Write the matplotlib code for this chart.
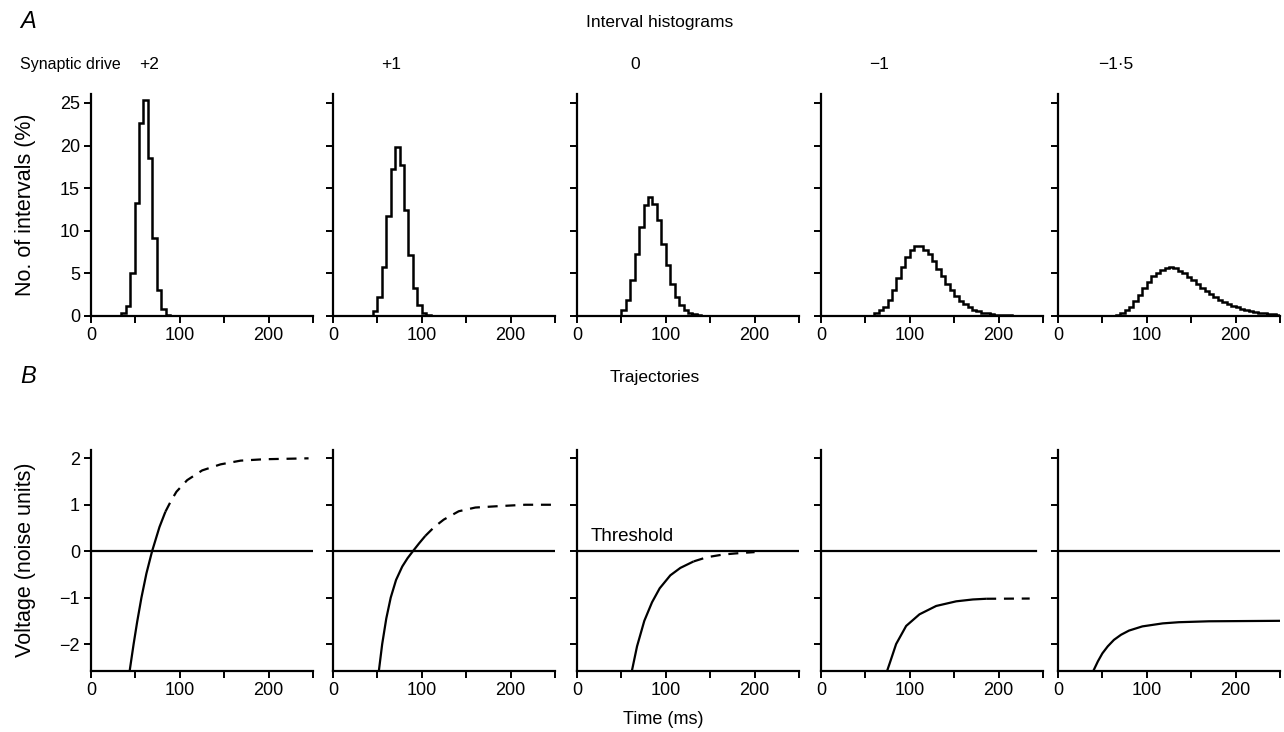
import numpy as np
import matplotlib
matplotlib.use("Agg")
import matplotlib.pyplot as plt

plt.rcParams["font.family"] = ["Liberation Sans", "DejaVu Sans"]

W, H = 1284, 732

DRIVES = ["+2", "+1", "0", "\u22121", "\u22121\u00b75"]

# interval histograms: 5 ms bins, first bin edge per panel, % of intervals
BIN_WIDTH = 5
HIST_START = [34, 45, 50, 60, 65]
HIST_PCT = [
    [0.3, 1.2, 5.1, 13.3, 22.7, 25.3, 18.5, 9.2, 3.1, 0.8, 0.1],
    [0.6, 2.2, 5.8, 11.7, 17.3, 19.8, 17.7, 12.4, 7.1, 3.3, 1.3, 0.4, 0.1],
    [0.75, 1.9, 4.2, 7.3, 10.5, 13.0, 14.0, 13.2, 11.3, 8.5, 6.0, 3.7, 2.2,
     1.3, 0.7, 0.35, 0.2, 0.1],
    [0.3, 0.7, 1.1, 1.9, 3.1, 4.5, 5.8, 6.9, 7.7, 8.2, 8.2, 7.8, 7.3, 6.4,
     5.5, 4.7, 3.8, 3.1, 2.4, 1.8, 1.4, 1.0, 0.75, 0.55, 0.4, 0.3, 0.22,
     0.16, 0.12, 0.08, 0.06, 0.04],
    [0.1, 0.3, 0.7, 1.1, 1.8, 2.5, 3.3, 4.0, 4.7, 5.1, 5.4, 5.65, 5.7, 5.6,
     5.3, 5.0, 4.6, 4.2, 3.7, 3.3, 2.9, 2.55, 2.25, 1.9, 1.65, 1.4, 1.2,
     1.0, 0.85, 0.7, 0.55, 0.45, 0.35, 0.3, 0.25, 0.2, 0.15],
]

# trajectories (time ms, voltage in noise units); solid part then dashed part
TRAJ_T_SOLID = [
    [43.6, 48, 52, 56.8, 62.4, 68.8, 77.1, 83.8],
    [51.7, 55.4, 60, 65, 71, 78, 84, 90, 97, 104],
    [61.9, 67.6, 75.8, 84.5, 93.1, 105.1, 116.4, 131.4],
    [74.6, 77.8, 84.6, 95.9, 110.9, 129.7, 152.3, 171, 186],
    [40, 45, 50, 56, 63, 71, 80, 95, 118, 136, 170, 250],
]
TRAJ_V_SOLID = [
    [-2.57, -2.0, -1.52, -1.0, -0.48, 0.0, 0.52, 0.85],
    [-2.57, -2.0, -1.45, -1.0, -0.62, -0.33, -0.15, 0.0, 0.17, 0.33],
    [-2.57, -2.05, -1.5, -1.1, -0.8, -0.52, -0.36, -0.22],
    [-2.57, -2.39, -2.0, -1.61, -1.36, -1.18, -1.08, -1.04, -1.025],
    [-2.57, -2.37, -2.2, -2.05, -1.91, -1.8, -1.71, -1.62, -1.555, -1.53,
     -1.51, -1.5],
]
TRAJ_T_DASH = [
    [83.8, 90, 96.2, 108.3, 125.2, 145.9, 168.4, 194.7, 245],
    [104, 114, 124.7, 141.6, 160.3, 186.5, 216.5, 246.4],
    [131.4, 146.4, 165.2, 184, 200],
    [186, 235],
    [],
]
TRAJ_V_DASH = [
    [0.85, 1.08, 1.28, 1.53, 1.74, 1.87, 1.95, 1.98, 2.0],
    [0.33, 0.52, 0.68, 0.86, 0.94, 0.97, 1.0, 1.0],
    [-0.22, -0.13, -0.07, -0.04, -0.02],
    [-1.025, -1.02],
    [],
]
THRESH_END = [250, 250, 250, 242, 250]

PANEL_LEFT = [91, 333, 577, 821, 1058]
PANEL_W = 222


def fx(x):
    return x / W


def fy(y):
    return 1 - y / H


def style_axes(ax):
    for s in ("top", "right"):
        ax.spines[s].set_visible(False)
    for s in ("left", "bottom"):
        ax.spines[s].set_linewidth(1.6)
    ax.tick_params(direction="out", length=5, width=1.4, labelsize=13, pad=3)
    ax.set_xlim(0, 250)
    ax.set_xticks(np.arange(0, 251, 50))
    ax.set_xticklabels(["0", "", "100", "", "200", ""])


fig = plt.figure(figsize=(W / 100, H / 100), dpi=100)

# --- A: interval histograms
for i in range(5):
    ax = fig.add_axes([fx(PANEL_LEFT[i]), fy(316), fx(PANEL_W), 222 / H])
    vals = np.asarray(HIST_PCT[i])
    edges = HIST_START[i] + BIN_WIDTH * np.arange(len(vals) + 1)
    ax.stairs(vals, edges, baseline=0, color="k", lw=1.8)
    style_axes(ax)
    ax.set_ylim(0, 26.05)
    ax.set_yticks(np.arange(0, 26, 5))
    if i == 0:
        ax.set_ylabel("No. of intervals (%)", fontsize=15.5)
        ax.yaxis.set_label_coords(-55 / PANEL_W, 0.5)
    else:
        ax.set_yticklabels([])

# --- B: trajectories
for i in range(5):
    ax = fig.add_axes([fx(PANEL_LEFT[i]), fy(670.5), fx(PANEL_W), 221 / H])
    ax.plot([0, THRESH_END[i]], [0, 0], color="k", lw=1.6)
    ax.plot(TRAJ_T_SOLID[i], TRAJ_V_SOLID[i], color="k", lw=1.6,
            solid_capstyle="butt")
    if TRAJ_T_DASH[i]:
        ax.plot(TRAJ_T_DASH[i], TRAJ_V_DASH[i], color="k", lw=1.6,
                ls=(0, (4.5, 3.5)))
    style_axes(ax)
    ax.set_ylim(-2.57, 2.19)
    ax.set_yticks([-2, -1, 0, 1, 2])
    if i == 0:
        ax.set_ylabel("Voltage (noise units)", fontsize=15.5)
        ax.yaxis.set_label_coords(-55 / PANEL_W, 0.5)
    else:
        ax.set_yticklabels([])
    if i == 2:
        ax.text(15, 0.22, "Threshold", fontsize=13.5)

# --- header texts
fig.text(fx(20), fy(28), "A", fontsize=17, style="italic")
fig.text(fx(20), fy(383), "B", fontsize=17, style="italic")
fig.text(fx(660), fy(27), "Interval histograms", fontsize=12.5, ha="center")
fig.text(fx(655), fy(382), "Trajectories", fontsize=12.5, ha="center")
fig.text(fx(20), fy(69), "Synaptic drive", fontsize=11.5)
for i, d in enumerate(DRIVES):
    fig.text(fx(PANEL_LEFT[i] + 58), fy(69), d, fontsize=12.5, ha="center")
fig.text(fx(663), fy(724), "Time (ms)", fontsize=13, ha="center")

fig.savefig("out.png", dpi=100)
plt.close(fig)
